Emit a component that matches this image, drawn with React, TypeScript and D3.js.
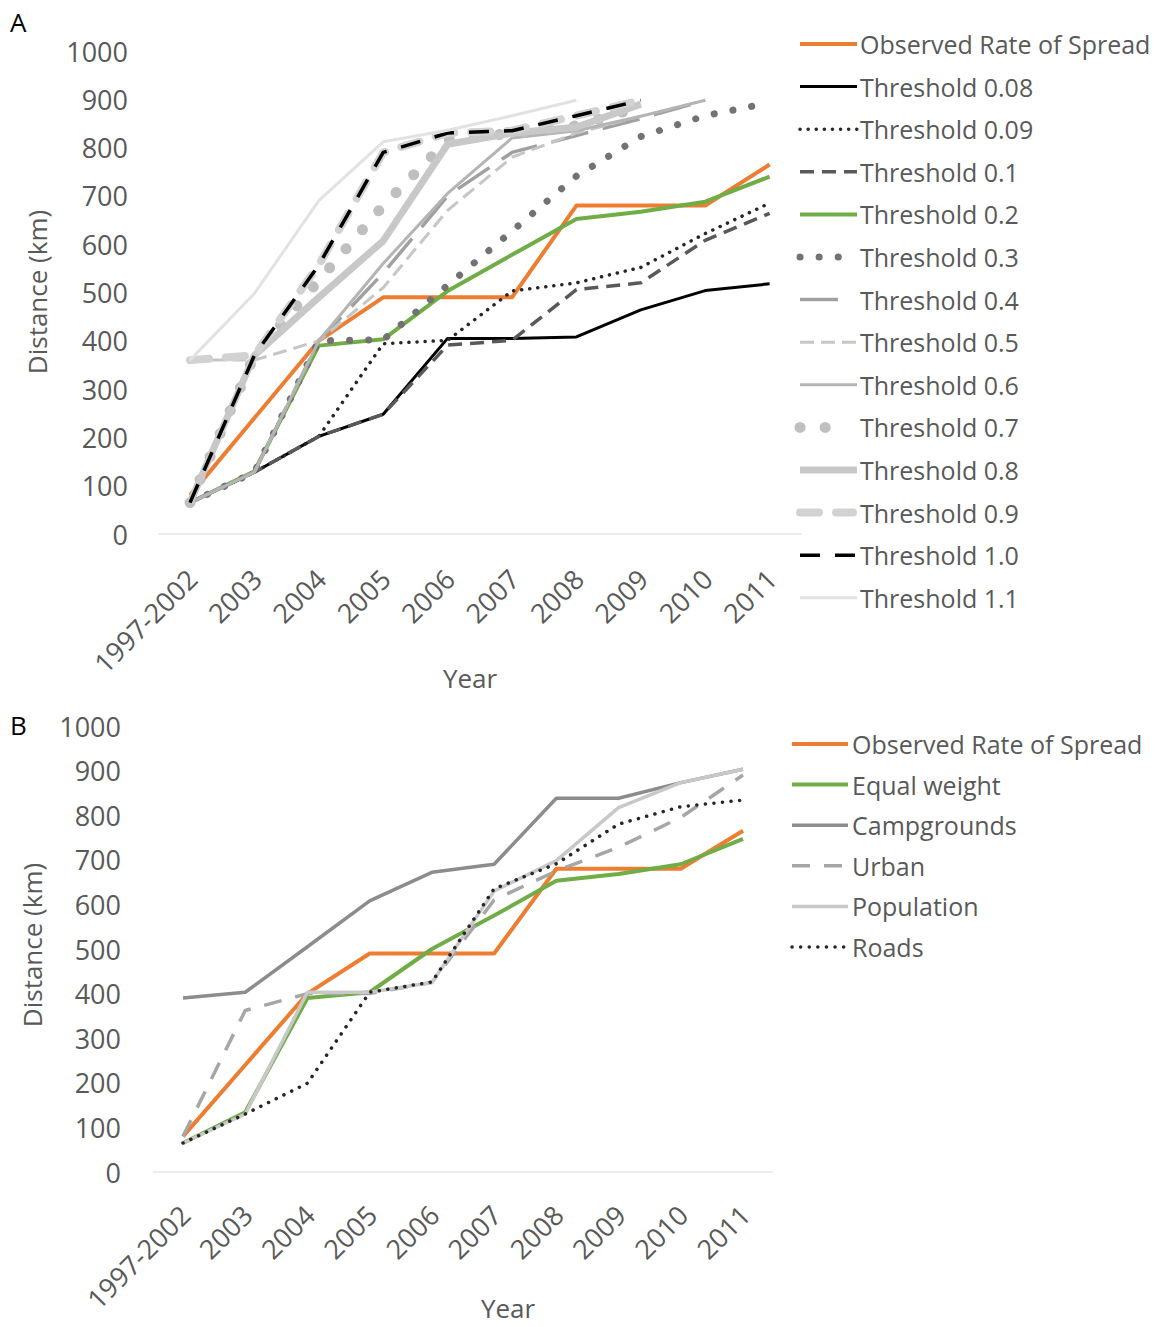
import React from 'react';
import * as d3 from 'd3';

const years = ['1997-2002', '2003', '2004', '2005', '2006', '2007', '2008', '2009', '2010', '2011'];
const yTicks = [0, 100, 200, 300, 400, 500, 600, 700, 800, 900, 1000];

// Panel A series
const observed = [80, 240, 400, 490, 490, 490, 680, 680, 680, 765];
const t008 = [65, 128, 202, 248, 405, 405, 408, 464, 504, 518];
const t009 = [65, 128, 202, 394, 401, 503, 520, 552, 622, 685];
const t01 = [65, 128, 202, 248, 391, 401, 506, 520, 608, 664];
const t02 = [65, 130, 390, 403, 503, 578, 652, 667, 688, 740];
const t03 = [65, 128, 400, 402, 515, 627, 741, 823, 866, 893];
const t04 = [65, 128, 400, 540, 700, 790, 825, 860, 898, null];
const t05 = [360, 360, 400, 510, 670, 780, 830, 865, null, null];
const t06 = [65, 128, 400, 560, 705, 820, 835, 865, 898, null];
const t07 = [65, 370, 525, 680, 815, 830, 845, 885, null, null];
const t08 = [65, 370, 490, 607, 807, 830, 842, 890, null, null];
const t09 = [360, 370, 557, 790, 830, 835, 866, 898, null, null];
const t10 = [65, 370, 557, 790, 830, 835, 866, 898, null, null];
const t11 = [360, 498, 690, 812, 836, 866, 898, null, null, null];

// Panel B series
const observedB = [80, 240, 400, 490, 490, 490, 680, 680, 680, 765];
const equalWeight = [65, 134, 390, 403, 500, 575, 653, 668, 690, 747];
const campgrounds = [390, 403, 505, 608, 672, 690, 838, 838, 873, 903];
const urban = [80, 362, 400, 400, 425, 610, 675, 728, 795, 890];
const population = [65, 130, 403, 403, 425, 630, 698, 817, 873, 903];
const roads = [65, 130, 199, 403, 426, 635, 691, 780, 819, 834];

type Sty = { color: string; width: number; dash?: string; cap?: string; legLen?: number };

const namesA = ['Observed Rate of Spread', 'Threshold 0.08', 'Threshold 0.09', 'Threshold 0.1', 'Threshold 0.2',
  'Threshold 0.3', 'Threshold 0.4', 'Threshold 0.5', 'Threshold 0.6', 'Threshold 0.7', 'Threshold 0.8',
  'Threshold 0.9', 'Threshold 1.0', 'Threshold 1.1'];
const valuesA = [observed, t008, t009, t01, t02, t03, t04, t05, t06, t07, t08, t09, t10, t11];
const stylesA: Sty[] = [
  { color: '#ED7D31', width: 4 },
  { color: '#000000', width: 3 },
  { color: '#262626', width: 3.5, dash: '0.1 8', cap: 'round' },
  { color: '#595959', width: 3.5, dash: '14 8' },
  { color: '#70AD47', width: 4 },
  { color: '#767171', width: 7, dash: '0.1 19', cap: 'round', legLen: 40 },
  { color: '#a0a0a0', width: 3.5, dash: '38 15', legLen: 38 },
  { color: '#c6c6c6', width: 3, dash: '14 7' },
  { color: '#b4b4b4', width: 3 },
  { color: '#bfbfbf', width: 11, dash: '0.1 25', cap: 'round', legLen: 28 },
  { color: '#c8c8c8', width: 7 },
  { color: '#d2d2d2', width: 8, dash: '19 17', cap: 'round', legLen: 53 },
  { color: '#000000', width: 3.5, dash: '20 15' },
  { color: '#e2e2e2', width: 3 },
];

const namesB = ['Observed Rate of Spread', 'Equal weight', 'Campgrounds', 'Urban', 'Population', 'Roads'];
const valuesB = [observedB, equalWeight, campgrounds, urban, population, roads];
const stylesB: Sty[] = [
  { color: '#ED7D31', width: 4 },
  { color: '#70AD47', width: 4 },
  { color: '#8c8c8c', width: 3.5 },
  { color: '#a6a6a6', width: 3.5, dash: '18 14' },
  { color: '#c8c8c8', width: 3.5 },
  { color: '#262626', width: 3.5, dash: '0.1 8.5', cap: 'round' },
];

const FONT = '"Open Sans", sans-serif';
const TXT = '#595959';

type PanelCfg = {
  letter: string; letterX: number; letterY: number;
  x0: number; x1: number; baseL: number; baseR: number;
  y0: number; y1: number; yLabX: number;
  xLabY: number; yearX: number; yearY: number; distX: number; distY: number;
  legX0: number; legX1: number; legTX: number; legY0: number; legDY: number;
  names: string[]; values: (number | null)[][]; styles: Sty[];
};

function Panel({ c }: { c: PanelCfg }) {
  const x = d3.scalePoint<string>().domain(years).range([c.x0, c.x1]);
  const y = d3.scaleLinear().domain([0, 1000]).range([c.y0, c.y1]);
  const line = d3.line<number | null>()
    .defined((d) => d != null)
    .x((_, i) => x(years[i]) as number)
    .y((d) => y(d as number));
  return (
    <g>
      <text x={c.letterX} y={c.letterY} fontFamily={FONT} fontSize={26} fill="#000" dominantBaseline="central">{c.letter}</text>
      <line x1={c.baseL} x2={c.baseR} y1={y(0)} y2={y(0)} stroke="#d9d9d9" strokeWidth={1.2} />
      {yTicks.map((t) => (
        <text key={t} x={c.yLabX} y={y(t)} textAnchor="end" dominantBaseline="central" fontFamily={FONT} fontSize={27} fill={TXT}>{t}</text>
      ))}
      {years.map((yr) => (
        <text key={yr} transform={`translate(${(x(yr) as number) + 2},${c.xLabY}) rotate(-45)`} textAnchor="end"
          dominantBaseline="central" fontFamily={FONT} fontSize={27} fill={TXT}>{yr}</text>
      ))}
      <text x={c.yearX} y={c.yearY} textAnchor="middle" dominantBaseline="central" fontFamily={FONT} fontSize={26} fill={TXT}>Year</text>
      <text transform={`translate(${c.distX},${c.distY}) rotate(-90)`} textAnchor="middle" dominantBaseline="central" fontFamily={FONT} fontSize={26} fill={TXT}>Distance (km)</text>
      {c.values.map((v, k) => {
        const s = c.styles[k];
        return (
          <path key={k} d={line(v) || ''} fill="none" stroke={s.color} strokeWidth={s.width}
            strokeDasharray={s.dash} strokeLinecap={(s.cap as any) || 'butt'} strokeLinejoin="round" />
        );
      })}
      {c.names.map((n, k) => {
        const s = c.styles[k];
        const ly = c.legY0 + k * c.legDY;
        const x2 = s.legLen != null ? c.legX0 + s.legLen : c.legX1;
        return (
          <g key={n}>
            <line x1={c.legX0} x2={x2} y1={ly} y2={ly} stroke={s.color} strokeWidth={s.width}
              strokeDasharray={s.dash} strokeLinecap={(s.cap as any) || 'butt'} />
            <text x={c.legTX} y={ly} dominantBaseline="central" fontFamily={FONT} fontSize={25} fill={TXT}>{n}</text>
          </g>
        );
      })}
    </g>
  );
}

export default function App() {
  const cA: PanelCfg = {
    letter: 'A', letterX: 10, letterY: 22,
    x0: 190, x1: 769.6, baseL: 158, baseR: 802,
    y0: 534, y1: 51, yLabX: 128,
    xLabY: 574, yearX: 470, yearY: 678, distX: 37, distY: 292,
    legX0: 800, legX1: 857, legTX: 860, legY0: 44, legDY: 42.6,
    names: namesA, values: valuesA, styles: stylesA,
  };
  const cB: PanelCfg = {
    letter: 'B', letterX: 10, letterY: 725,
    x0: 183, x1: 743, baseL: 153, baseR: 773,
    y0: 1172, y1: 726, yLabX: 121,
    xLabY: 1210, yearX: 508, yearY: 1308, distX: 32, distY: 945,
    legX0: 792, legX1: 848, legTX: 852, legY0: 744, legDY: 40.6,
    names: namesB, values: valuesB, styles: stylesB,
  };
  return (
    <svg width={1157} height={1327} style={{ position: 'absolute', left: 0, top: 0, background: '#fff' }}>
      <rect width={1157} height={1327} fill="#fff" />
      <Panel c={cA} />
      <Panel c={cB} />
    </svg>
  );
}
